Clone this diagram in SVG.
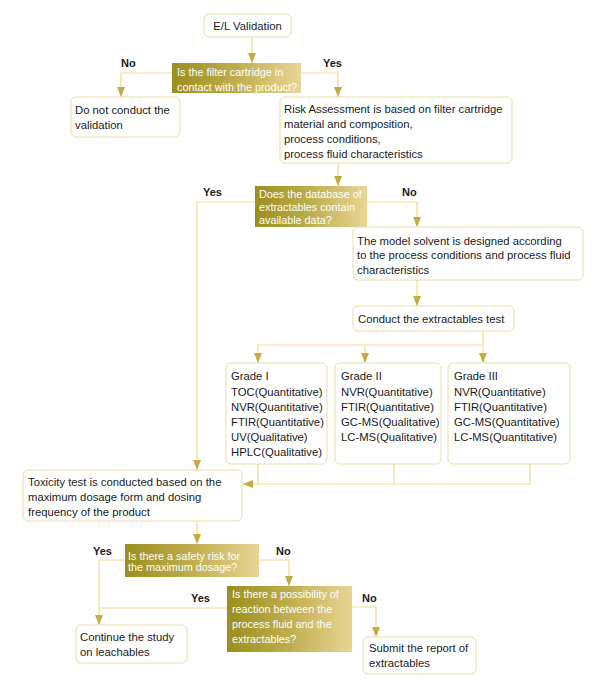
<svg xmlns="http://www.w3.org/2000/svg" width="593" height="693" viewBox="0 0 593 693">
<defs>
<linearGradient id="dg" x1="0" y1="0" x2="1" y2="0">
<stop offset="0" stop-color="#9a8e1e"/>
<stop offset="0.5" stop-color="#bfae4e"/>
<stop offset="1" stop-color="#e9d596"/>
</linearGradient>
<marker id="ah" markerUnits="userSpaceOnUse" markerWidth="10" markerHeight="8" refX="10" refY="4" orient="auto">
<path d="M0,0 L10,4 L0,8 z" fill="#c3ad40"/>
</marker>
<style>
.box{fill:#fff;stroke:#e8dcaa;stroke-width:1}
.dec{fill:url(#dg)}
.t{font-family:"Liberation Sans",Arial,sans-serif;font-size:11.3px;fill:#1a1a1a}
.w{font-family:"Liberation Sans",Arial,sans-serif;font-size:10.8px;fill:#ffffff}
.lb{font-family:"Liberation Sans",Arial,sans-serif;font-size:11px;font-weight:bold;fill:#1a1a1a}
.c{fill:none;stroke:#f5d98e;stroke-width:1.2}
.a{marker-end:url(#ah)}
</style>
</defs>
<rect width="593" height="693" fill="#fff"/>
<g id="connectors">
<path class="c a" d="M252,37 V63"/>
<path class="c a" d="M172,73 H121 V97"/>
<path class="c a" d="M301,73 H338 V97"/>
<path class="c a" d="M338,163 V186"/>
<path class="c a" d="M255,202 H197 V470"/>
<path class="c a" d="M367,202 H417 V227"/>
<path class="c a" d="M417,280 V306"/>
<path class="c" d="M483,331 V345 H258"/>
<path class="c a" d="M258,345 V363"/>
<path class="c a" d="M365,345 V363"/>
<path class="c a" d="M483,345 V363"/>
<path class="c" d="M258,464 V484"/>
<path class="c" d="M394,464 V484"/>
<path class="c a" d="M530,464 V484 H243"/>
<path class="c a" d="M197,521 V544"/>
<path class="c a" d="M125,560 H99 V625"/>
<path class="c a" d="M259,560 H289 V586"/>
<path class="c" d="M227,608 H99"/>
<path class="c a" d="M352,607 H376 V637"/>
<text class="lb" x="121" y="67">No</text>
<text class="lb" x="323" y="67">Yes</text>
<text class="lb" x="203" y="196">Yes</text>
<text class="lb" x="402" y="196">No</text>
<text class="lb" x="93" y="555">Yes</text>
<text class="lb" x="276" y="555">No</text>
<text class="lb" x="191" y="602">Yes</text>
<text class="lb" x="362" y="602">No</text>
</g>
<g id="n-start">
<rect class="box" x="204" y="14" width="87" height="23" rx="5"/>
<text class="t" x="247.5" y="29.5" text-anchor="middle">E/L Validation</text>
</g>
<g id="d-contact">
<rect class="dec" x="172" y="63" width="129" height="30"/>
<text class="w" x="177" y="76">Is the filter cartridge in</text>
<text class="w" x="177" y="91">contact with the product?</text>
</g>
<g id="n-noval">
<rect class="box" x="71" y="97" width="109" height="40" rx="5"/>
<text class="t" x="75" y="114">Do not conduct the</text>
<text class="t" x="75" y="129">validation</text>
</g>
<g id="n-risk">
<rect class="box" x="280" y="97" width="232" height="66" rx="5"/>
<text class="t" x="284" y="113">Risk Assessment is based on filter cartridge</text>
<text class="t" x="284" y="128">material and composition,</text>
<text class="t" x="284" y="143">process conditions,</text>
<text class="t" x="284" y="158">process fluid characteristics</text>
</g>
<g id="d-database">
<rect class="dec" x="255" y="186" width="112" height="41"/>
<text class="w" x="259" y="198">Does the database of</text>
<text class="w" x="259" y="211">extractables contain</text>
<text class="w" x="259" y="224">available data?</text>
</g>
<g id="n-model">
<rect class="box" x="353" y="227" width="230" height="53" rx="5"/>
<text class="t" x="357" y="245">The model solvent is designed according</text>
<text class="t" x="357" y="259">to the process conditions and process fluid</text>
<text class="t" x="357" y="274">characteristics</text>
</g>
<g id="n-conduct">
<rect class="box" x="353" y="306" width="161" height="25" rx="5"/>
<text class="t" x="358" y="323">Conduct the extractables test</text>
</g>
<g id="n-grade1">
<rect class="box" x="226" y="363" width="101" height="101" rx="5"/>
<text class="t" x="231" y="380">Grade I</text>
<text class="t" x="231" y="396">TOC(Quantitative)</text>
<text class="t" x="231" y="411">NVR(Quantitative)</text>
<text class="t" x="231" y="426">FTIR(Quantitative)</text>
<text class="t" x="231" y="441">UV(Qualitative)</text>
<text class="t" x="231" y="456">HPLC(Qualitative)</text>
</g>
<g id="n-grade2">
<rect class="box" x="335" y="363" width="106" height="101" rx="5"/>
<text class="t" x="341" y="380">Grade II</text>
<text class="t" x="341" y="396">NVR(Quantitative)</text>
<text class="t" x="341" y="411">FTIR(Quantitative)</text>
<text class="t" x="341" y="426">GC-MS(Qualitative)</text>
<text class="t" x="341" y="441">LC-MS(Qualitative)</text>
</g>
<g id="n-grade3">
<rect class="box" x="448" y="363" width="122" height="101" rx="5"/>
<text class="t" x="454" y="380">Grade III</text>
<text class="t" x="454" y="396">NVR(Quantitative)</text>
<text class="t" x="454" y="411">FTIR(Quantitative)</text>
<text class="t" x="454" y="426">GC-MS(Quantitative)</text>
<text class="t" x="454" y="441">LC-MS(Quantitative)</text>
</g>
<g id="n-toxicity">
<rect class="box" x="23" y="470" width="219" height="51" rx="5"/>
<text class="t" x="28" y="486">Toxicity test is conducted based on the</text>
<text class="t" x="28" y="501">maximum dosage form and dosing</text>
<text class="t" x="28" y="516">frequency of the product</text>
</g>
<g id="d-safety">
<rect class="dec" x="125" y="544" width="134" height="33"/>
<text class="w" x="128" y="560">Is there a safety risk for</text>
<text class="w" x="128" y="571">the maximum dosage?</text>
</g>
<g id="n-continue">
<rect class="box" x="76" y="625" width="111" height="38" rx="5"/>
<text class="t" x="80" y="641">Continue the study</text>
<text class="t" x="80" y="656">on leachables</text>
</g>
<g id="d-reaction">
<rect class="dec" x="227" y="586" width="125" height="66"/>
<text class="w" x="232" y="598">Is there a possibility of</text>
<text class="w" x="232" y="613">reaction between the</text>
<text class="w" x="232" y="628">process fluid and the</text>
<text class="w" x="232" y="643">extractables?</text>
</g>
<g id="n-submit">
<rect class="box" x="363" y="637" width="113" height="37" rx="5"/>
<text class="t" x="369" y="652">Submit the report of</text>
<text class="t" x="369" y="667">extractables</text>
</g>
</svg>
